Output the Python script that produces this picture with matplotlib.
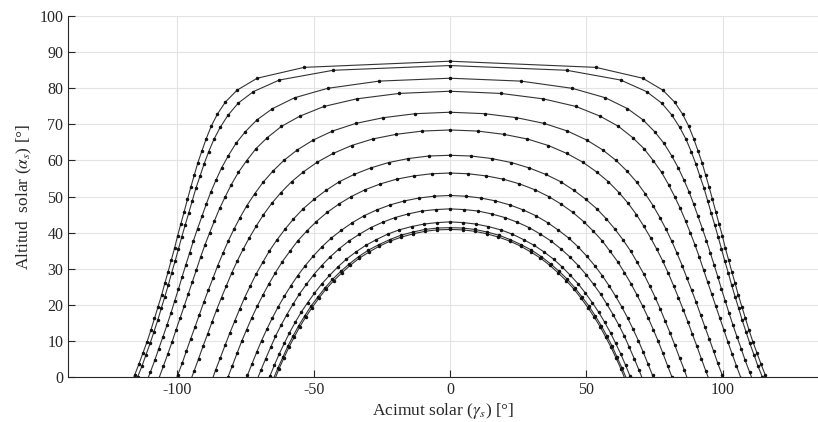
import numpy as np
import matplotlib
matplotlib.use("Agg")
import matplotlib.pyplot as plt

plt.rcParams["font.family"] = ["Liberation Serif", "DejaVu Serif"]
plt.rcParams["mathtext.fontset"] = "stix"
plt.rcParams["axes.unicode_minus"] = False

# sun path, one curve per day, points every 15 min from solar noon to sunset
# (afternoon half only; the morning half is the mirror image about noon)
az_1 = [0.0, 53.5, 70.7, 78.1, 82.4, 85.3, 87.6, 89.4, 91.0, 92.5, 93.8, 95.1, 96.3, 97.5, 98.7, 99.9,
        101.0, 102.2, 103.4, 104.6, 105.8, 107.1, 108.4, 109.7, 111.1, 112.6, 114.1, 115.7, 117.3]
alt_1 = [87.4, 85.7, 82.7, 79.4, 76.1, 72.8, 69.4, 66.0, 62.6, 59.3, 55.9, 52.5, 49.2, 45.8, 42.5, 39.2,
         35.8, 32.5, 29.2, 26.0, 22.7, 19.5, 16.3, 13.1, 9.9, 6.8, 3.7, 0.6, -2.4]

az_2 = [0.0, 42.8, 62.6, 72.1, 77.7, 81.4, 84.3, 86.6, 88.5, 90.2, 91.7, 93.2, 94.5, 95.8, 97.1, 98.4,
        99.6, 100.8, 102.1, 103.3, 104.6, 105.9, 107.2, 108.6, 110.0, 111.5, 113.0, 114.6, 116.3]
alt_2 = [86.2, 84.9, 82.2, 79.0, 75.8, 72.5, 69.1, 65.8, 62.4, 59.0, 55.6, 52.3, 48.9, 45.5, 42.2, 38.8,
         35.5, 32.2, 28.9, 25.6, 22.3, 19.1, 15.8, 12.6, 9.4, 6.3, 3.1, 0.1, -3.0]

az_3 = [0.0, 26.0, 44.9, 57.0, 65.1, 70.8, 75.1, 78.5, 81.3, 83.7, 85.8, 87.7, 89.4, 91.0, 92.6, 94.1,
        95.5, 96.9, 98.3, 99.6, 101.0, 102.4, 103.8, 105.3, 106.8, 108.3, 109.9, 111.5]
alt_3 = [82.7, 81.9, 79.9, 77.3, 74.3, 71.2, 67.9, 64.7, 61.3, 58.0, 54.6, 51.3, 47.9, 44.5, 41.1, 37.8,
         34.4, 31.1, 27.7, 24.4, 21.1, 17.7, 14.5, 11.2, 8.0, 4.7, 1.5, -1.6]

az_4 = [0.0, 18.6, 34.2, 46.2, 55.1, 61.8, 67.0, 71.2, 74.6, 77.6, 80.2, 82.4, 84.5, 86.4, 88.2, 89.9,
        91.5, 93.0, 94.5, 96.0, 97.5, 99.0, 100.5, 102.0, 103.5, 105.1, 106.7]
alt_4 = [79.1, 78.5, 77.0, 74.9, 72.2, 69.4, 66.3, 63.2, 59.9, 56.7, 53.3, 50.0, 46.7, 43.3, 39.9, 36.6,
         33.2, 29.8, 26.4, 23.1, 19.7, 16.4, 13.1, 9.7, 6.5, 3.2, -0.1]

az_5 = [0.0, 12.7, 24.4, 34.6, 43.1, 50.2, 56.0, 60.9, 65.0, 68.6, 71.7, 74.5, 77.0, 79.3, 81.4, 83.3,
        85.2, 86.9, 88.6, 90.3, 91.9, 93.5, 95.1, 96.7, 98.2, 99.9, 101.5]
alt_5 = [73.3, 72.9, 71.8, 70.2, 68.1, 65.6, 62.9, 60.0, 57.0, 53.9, 50.7, 47.5, 44.2, 40.9, 37.6, 34.3,
         30.9, 27.5, 24.2, 20.8, 17.4, 14.0, 10.7, 7.3, 4.0, 0.6, -2.7]

az_6 = [0.0, 10.1, 19.7, 28.4, 36.1, 42.9, 48.7, 53.8, 58.1, 62.0, 65.4, 68.4, 71.1, 73.6, 75.9, 78.1,
        80.1, 82.0, 83.8, 85.6, 87.3, 88.9, 90.6, 92.2, 93.8, 95.5]
alt_6 = [68.4, 68.1, 67.2, 65.9, 64.1, 61.9, 59.5, 56.8, 54.1, 51.1, 48.1, 45.0, 41.8, 38.6, 35.4, 32.1,
         28.8, 25.4, 22.1, 18.7, 15.3, 12.0, 8.6, 5.2, 1.9, -1.5]

az_7 = [0.0, 7.8, 15.3, 22.5, 29.1, 35.2, 40.6, 45.5, 49.9, 53.9, 57.4, 60.6, 63.6, 66.3, 68.7, 71.1,
        73.2, 75.3, 77.2, 79.0, 80.8, 82.5, 84.2, 85.9, 87.5]
alt_7 = [61.4, 61.2, 60.5, 59.4, 57.9, 56.1, 54.1, 51.7, 49.2, 46.6, 43.8, 40.9, 37.9, 34.9, 31.8, 28.6,
         25.4, 22.1, 18.8, 15.5, 12.2, 8.9, 5.5, 2.2, -1.2]

az_8 = [0.0, 6.7, 13.3, 19.6, 25.5, 31.1, 36.2, 40.8, 45.1, 49.0, 52.5, 55.8, 58.7, 61.5, 64.0, 66.4,
        68.6, 70.7, 72.7, 74.6, 76.4, 78.1, 79.8, 81.5, 83.1]
alt_8 = [56.5, 56.3, 55.7, 54.8, 53.5, 51.9, 50.0, 47.9, 45.6, 43.1, 40.5, 37.8, 34.9, 32.0, 29.0, 25.9,
         22.8, 19.7, 16.5, 13.2, 10.0, 6.7, 3.3, 0.0, -3.3]

az_9 = [0.0, 5.7, 11.3, 16.7, 21.9, 26.9, 31.5, 35.8, 39.8, 43.6, 47.0, 50.2, 53.1, 55.9, 58.4, 60.8,
        63.1, 65.2, 67.2, 69.1, 70.9, 72.6, 74.3, 75.9]
alt_9 = [50.3, 50.1, 49.6, 48.8, 47.7, 46.3, 44.7, 42.8, 40.7, 38.5, 36.1, 33.5, 30.9, 28.1, 25.3, 22.4,
         19.4, 16.4, 13.3, 10.2, 7.0, 3.8, 0.6, -2.7]

az_10 = [0.0, 5.2, 10.3, 15.3, 20.1, 24.7, 29.1, 33.2, 37.1, 40.6, 44.0, 47.1, 50.0, 52.7, 55.3, 57.6,
         59.9, 62.0, 64.0, 65.8, 67.6, 69.3, 71.0]
alt_10 = [46.6, 46.4, 46.0, 45.2, 44.2, 42.9, 41.4, 39.6, 37.7, 35.6, 33.3, 30.9, 28.4, 25.7, 23.0, 20.2,
          17.3, 14.4, 11.4, 8.3, 5.2, 2.1, -1.1]

az_11 = [0.0, 4.8, 9.5, 14.1, 18.6, 22.9, 27.0, 30.9, 34.5, 38.0, 41.2, 44.2, 47.1, 49.7, 52.2, 54.6,
         56.8, 58.9, 60.8, 62.7, 64.4, 66.1, 67.7]
alt_11 = [43.0, 42.8, 42.4, 41.7, 40.8, 39.6, 38.1, 36.5, 34.7, 32.7, 30.5, 28.2, 25.8, 23.3, 20.7, 18.0,
          15.2, 12.3, 9.4, 6.4, 3.4, 0.3, -2.8]

az_12 = [0.0, 4.6, 9.2, 13.6, 18.0, 22.1, 26.1, 29.9, 33.5, 36.9, 40.1, 43.1, 45.9, 48.5, 51.0, 53.3,
         55.5, 57.6, 59.5, 61.3, 63.1, 64.8]
alt_12 = [41.4, 41.3, 40.9, 40.2, 39.3, 38.1, 36.7, 35.2, 33.4, 31.4, 29.3, 27.1, 24.7, 22.2, 19.7, 17.0,
          14.3, 11.4, 8.6, 5.6, 2.6, -0.4]

az_13 = [0.0, 4.6, 9.1, 13.5, 17.8, 21.9, 25.9, 29.6, 33.2, 36.6, 39.7, 42.7, 45.5, 48.1, 50.6, 52.9,
         55.1, 57.1, 59.1, 60.9, 62.7, 64.3]
alt_13 = [40.9, 40.8, 40.4, 39.7, 38.8, 37.7, 36.3, 34.7, 33.0, 31.0, 28.9, 26.7, 24.4, 21.9, 19.3, 16.7,
          14.0, 11.2, 8.3, 5.4, 2.4, -0.6]

paths = [(az_1, alt_1), (az_2, alt_2), (az_3, alt_3), (az_4, alt_4), (az_5, alt_5),
         (az_6, alt_6), (az_7, alt_7), (az_8, alt_8), (az_9, alt_9), (az_10, alt_10),
         (az_11, alt_11), (az_12, alt_12), (az_13, alt_13)]

xticks = [-100, -50, 0, 50, 100]
yticks = [0, 10, 20, 30, 40, 50, 60, 70, 80, 90, 100]

fig = plt.figure(figsize=(8.18, 4.22), dpi=100)
ax = fig.add_axes([0.0835, 0.1055, 0.9165, 0.8575])

for az, alt in paths:
    az = np.asarray(az)
    alt = np.asarray(alt)
    # morning side = afternoon mirrored about solar noon
    x = np.concatenate([-az[::-1], az[1:]])
    y = np.concatenate([alt[::-1], alt[1:]])
    ax.plot(x, y, "-", color="#333333", lw=0.8, marker=".", ms=3,
            mfc="#111111", mec="#111111")

ax.set_xlim(-140, 135)
ax.set_ylim(0, 100)
ax.set_xticks(xticks)
ax.set_yticks(yticks)
ax.grid(True, color="#e3e3e3", lw=0.8)
ax.set_axisbelow(True)
for side in ("top", "right"):
    ax.spines[side].set_visible(False)
for side in ("left", "bottom"):
    ax.spines[side].set_color("#262626")
    ax.spines[side].set_linewidth(0.8)
ax.tick_params(direction="in", length=5, width=0.8, color="#262626",
               labelcolor="#262626", labelsize=11.5)
ax.set_xlabel(r"Acimut solar ($\gamma_s$) [°]", fontsize=12.5, color="#262626", labelpad=2)
ax.set_ylabel(r"Altitud  solar ($\alpha_s$) [°]", fontsize=12.5, color="#262626", labelpad=4)

fig.savefig("out.png")
